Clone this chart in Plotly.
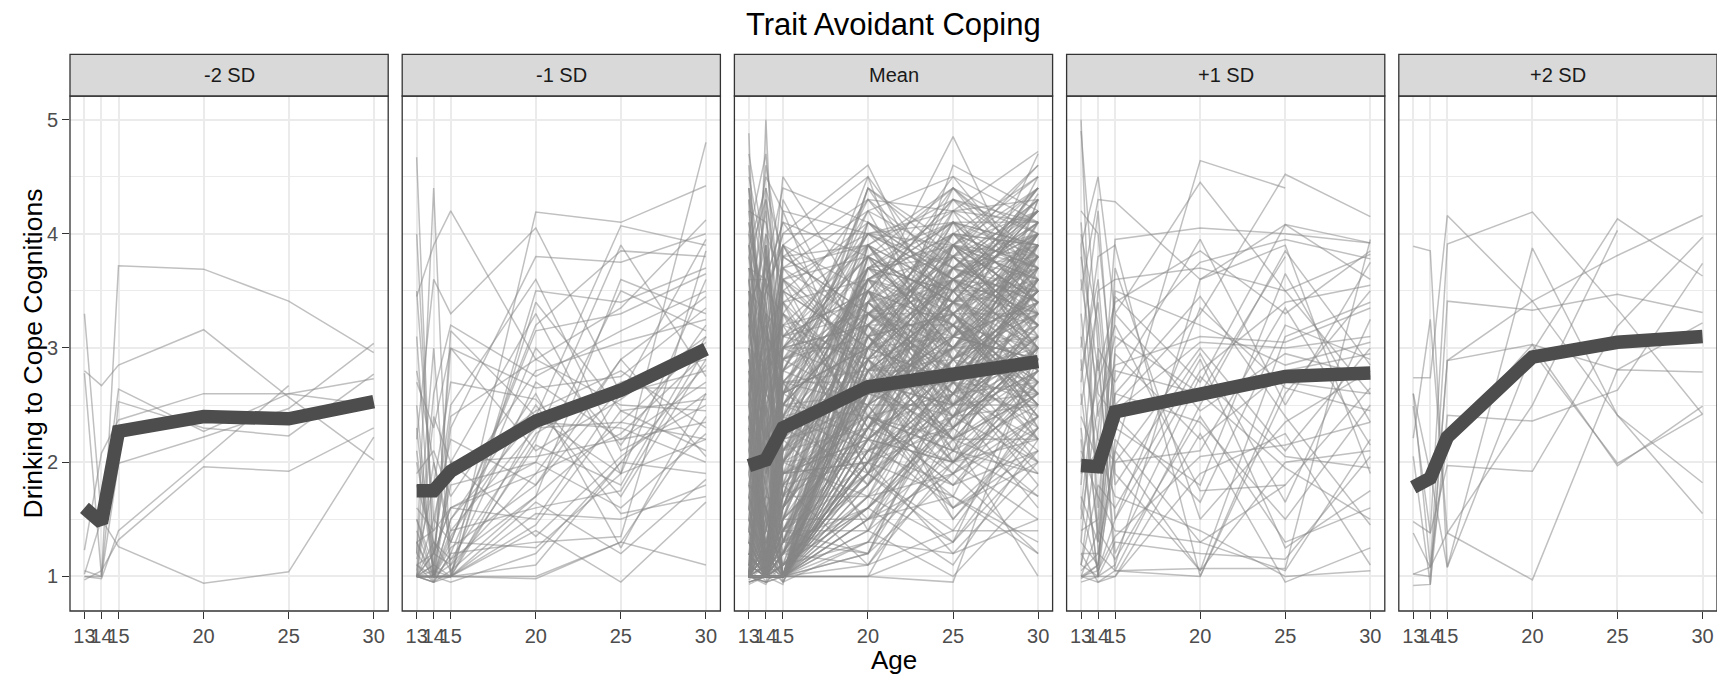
import plotly.graph_objects as go

# ---------------- data ----------------
ages = [13, 14, 15, 20, 25, 30]
age_ticks = [13, 14, 15, 20, 25, 30]
y_ticks = [1, 2, 3, 4, 5]
panel_labels = ["-2 SD", "-1 SD", "Mean", "+1 SD", "+2 SD"]

mean_m2 = [1.60, 1.47, 2.27, 2.40, 2.38, 2.53]
mean_m1 = [1.75, 1.75, 1.92, 2.36, 2.63, 2.99]
mean_0 = [1.97, 2.02, 2.30, 2.66, 2.77, 2.88]
mean_p1 = [1.97, 1.96, 2.44, 2.60, 2.75, 2.78]
mean_p2 = [1.78, 1.86, 2.22, 2.92, 3.05, 3.10]

N = None
indiv_m2 = [
    [1.05, 1.00, 3.72, 3.69, 3.41, 2.96],
    [2.80, 2.67, 2.85, 3.16, 2.57, 2.02],
    [3.30, 1.50, 2.64, 2.27, 2.60, 2.73],
    [2.78, 1.00, 2.53, 2.30, 2.23, 2.77],
    [1.23, 2.08, 2.37, 2.60, 2.60, 2.50],
    [1.00, 1.00, 1.99, 2.22, 2.47, 3.04],
    [1.00, 0.98, 1.40, 2.03, 2.67, N],
    [0.97, 1.05, 1.32, 1.96, 1.92, 2.30],
    [1.02, 1.50, 1.26, 0.94, 1.04, 2.22],
]

indiv_m1 = [
    [4.67, 1.00, 1.50, 2.40, 1.90, 4.80], [1.20, 4.40, 1.00, 4.19, 4.10, 4.42],
    [3.45, 3.90, 4.20, 2.90, 3.35, 4.12], [1.00, 1.20, 2.30, 3.80, 3.75, 4.00],
    [2.20, 3.60, 3.30, 4.05, 2.60, 3.95], [1.10, 1.00, 3.15, 2.40, 4.07, 3.90],
    [3.50, 1.50, 1.30, 3.20, 3.85, 3.80], [1.00, 0.95, 1.00, 3.50, 3.40, 3.70],
    [2.50, 1.00, 2.00, 3.30, 1.90, 3.60], [1.05, 2.60, 3.20, 2.75, 3.15, 3.50],
    [1.80, 1.30, 1.05, 1.70, 3.60, 3.30], [1.30, 0.95, 1.20, 3.00, 2.15, 3.20],
    [1.00, 1.10, 3.00, 2.10, 2.55, 3.10], [2.80, 2.00, 1.40, 2.30, 2.35, 3.05],
    [1.00, 1.00, 1.10, 1.90, 2.25, 2.95], [1.15, 1.80, 2.70, 2.55, 1.70, 2.90],
    [1.00, 1.00, 0.95, 1.20, 2.00, 2.85], [2.00, 1.20, 1.60, 1.50, 2.60, 2.80],
    [1.40, 1.00, 1.00, 2.20, 3.90, 2.75], [1.00, 2.40, 2.00, 2.05, 2.20, 2.70],
    [1.20, 1.00, 1.25, 1.80, 2.65, 2.65], [3.10, 1.00, 1.50, 2.60, 1.25, 2.60],
    [1.00, 1.10, 1.00, 1.45, 2.45, 2.55], [1.60, 1.40, 2.50, 3.60, 2.10, 2.50],
    [1.00, 1.05, 1.00, 1.00, 1.30, 2.40], [1.10, 0.95, 1.90, 2.45, 2.80, 2.30],
    [1.00, 1.30, 1.15, 1.70, 2.35, 2.20], [2.30, 1.00, 1.00, 1.65, 1.20, 1.85],
    [1.00, 1.00, 1.35, 2.50, 1.55, 1.70], [1.00, 1.00, 1.00, 1.40, 0.95, 1.65],
    [1.30, 1.00, 1.00, 0.98, 1.30, 1.10], [1.00, 0.95, 1.20, 1.30, 1.35, 3.85],
    [1.90, 2.10, 1.70, 2.80, 3.05, 3.25], [1.00, 1.50, 2.20, 1.80, 2.90, 3.45],
    [1.00, 1.00, 1.00, 2.35, 2.30, 2.00], [1.50, 1.10, 1.80, 2.00, 1.60, 2.25],
    [1.00, 1.00, 1.40, 1.60, 1.75, 3.00], [1.20, 3.00, 1.00, 3.40, 2.45, 2.10],
    [2.70, 2.30, 3.00, 2.65, 2.75, 3.35], [1.00, 1.00, 1.00, 1.10, 2.00, 1.90],
    [1.10, 1.20, 2.40, 2.90, 2.50, 2.45], [1.00, 0.95, 1.05, 2.15, 1.80, 3.10],
    [4.00, 1.20, 1.60, 1.90, 2.90, 2.05], [1.00, 1.00, 1.30, 3.15, 3.30, 3.65],
    [1.50, 1.00, 2.00, 1.35, 2.05, 2.60], [1.00, 1.20, 1.10, 2.70, 2.20, 2.35],
    [2.10, 1.00, 1.00, 1.55, 1.50, 1.80], [1.00, 1.00, 1.15, 2.25, 2.70, 2.90],
    [1.30, 1.40, 1.60, 2.00, 3.50, 3.15], [1.00, 2.00, 1.30, 1.25, 1.90, 2.20],
]

indiv_0 = [
    [4.88, 1.0, 2.1, 3.2, 2.8, 3.5], [1.0, 5.0, 1.8, 2.6, 3.9, 4.6],
    [4.4, 3.5, 4.0, 4.6, 3.1, 2.9], [1.0, 1.0, 3.9, 4.5, 2.5, 3.0],
    [2.3, 1.1, 1.0, 3.4, 4.85, 3.3], [3.9, 4.4, 3.8, 4.3, 4.2, 4.72],
    [1.1, 1.0, 1.0, 2.0, 2.6, 3.8], [1.0, 1.3, 1.2, 2.8, 3.2, 4.35],
    [3.0, 2.2, 2.5, 3.9, 4.3, 4.1], [0.95, 1.0, 1.0, 1.0, 1.3, 2.1],
    [1.5, 2.8, 3.6, 3.1, 2.2, 2.7], [2.0, 1.0, 1.4, 2.4, 3.4, 3.0],
    [1.0, 0.95, 1.1, 1.6, 2.2, 1.0], [4.2, 3.0, 2.6, 3.6, 4.0, 3.9],
    [1.0, 1.2, 2.0, 3.0, 3.6, 4.2], [2.6, 3.3, 0.95, 2.2, 2.9, 3.3],
    [1.0, 1.0, 1.0, 2.5, 1.5, 2.4], [3.6, 4.5, 4.2, 4.0, 3.7, 4.3],
    [1.3, 1.0, 1.6, 3.5, 2.0, 2.6], [1.0, 1.0, 1.3, 1.2, 2.7, 3.6],
    [2.8, 2.0, 3.0, 2.7, 3.0, 2.2], [1.0, 2.5, 1.0, 3.3, 3.9, 3.4],
    [0.95, 1.0, 1.0, 2.1, 2.4, 2.9], [3.3, 1.5, 2.8, 4.1, 3.3, 2.5],
    [1.2, 1.0, 1.0, 1.4, 1.0, 1.8], [2.1, 3.8, 2.2, 2.9, 4.4, 4.0],
    [1.0, 1.1, 1.5, 2.6, 3.0, 3.7], [4.6, 2.7, 3.3, 1.9, 2.5, 1.6],
    [1.0, 1.0, 2.4, 3.7, 3.5, 4.1], [1.7, 1.0, 1.0, 1.5, 2.1, 2.8],
    [1.0, 1.8, 1.2, 2.3, 1.7, 1.3], [2.5, 1.0, 3.5, 3.0, 3.8, 3.2],
    [1.0, 0.95, 1.0, 1.8, 2.8, 3.5], [3.8, 3.1, 2.9, 3.4, 2.7, 3.1],
    [1.0, 1.2, 1.0, 2.7, 3.3, 2.3], [1.4, 2.3, 1.9, 2.0, 1.2, 2.0],
    [1.0, 1.0, 1.7, 3.8, 4.1, 3.8], [2.9, 1.0, 1.0, 1.0, 2.3, 3.0],
    [1.0, 3.9, 2.7, 2.5, 3.5, 4.4], [1.1, 1.0, 1.0, 2.2, 2.0, 1.5],
    [3.4, 2.4, 3.7, 4.2, 4.5, 3.6], [1.0, 1.0, 1.3, 3.1, 2.6, 2.7],
    [2.2, 1.6, 1.0, 1.7, 3.1, 3.9], [1.0, 1.0, 2.2, 2.4, 1.8, 2.1],
    [4.0, 4.7, 3.1, 3.5, 3.0, 2.6], [1.0, 1.1, 0.95, 1.3, 2.5, 3.1],
    [1.8, 1.0, 2.5, 3.3, 2.8, 4.0], [1.0, 2.0, 1.0, 2.9, 3.6, 3.3],
    [2.4, 1.0, 1.8, 1.1, 1.4, 2.5], [1.0, 1.0, 1.0, 2.6, 3.2, 2.4],
    [3.1, 3.6, 4.1, 3.8, 3.4, 4.2], [1.2, 1.0, 1.4, 2.0, 3.7, 3.5],
    [1.0, 1.4, 2.9, 3.2, 2.1, 1.9], [2.7, 1.0, 1.0, 2.8, 2.9, 3.4],
    [1.0, 1.0, 1.1, 1.9, 1.3, 2.9], [1.6, 2.6, 2.3, 3.6, 3.8, 3.0],
    [1.0, 1.0, 1.0, 1.5, 2.4, 3.2], [3.5, 2.0, 3.4, 2.3, 3.9, 3.7],
    [1.0, 1.3, 1.6, 3.4, 2.6, 2.0], [1.9, 1.0, 1.0, 2.1, 3.0, 4.0],
    [1.0, 3.0, 2.0, 4.4, 3.3, 2.8], [1.0, 1.0, 1.2, 2.7, 2.2, 2.6],
    [4.3, 1.0, 2.6, 3.0, 4.0, 4.5], [1.3, 1.1, 1.0, 1.2, 1.9, 1.2],
    [2.0, 2.9, 3.2, 3.9, 3.5, 3.5], [1.0, 1.0, 1.5, 2.3, 3.4, 3.6],
    [2.6, 1.0, 1.0, 1.6, 2.3, 1.7], [1.0, 1.5, 3.0, 3.5, 2.4, 3.0],
    [3.7, 3.4, 2.1, 2.6, 3.1, 2.9], [1.0, 1.0, 1.0, 3.0, 3.6, 3.9],
    [1.4, 1.0, 1.8, 2.5, 1.6, 2.3], [1.0, 2.2, 1.3, 1.8, 2.7, 3.3],
    [2.2, 1.0, 2.7, 3.6, 4.1, 4.1], [1.0, 0.95, 1.0, 2.2, 2.0, 2.7],
    [3.2, 4.0, 3.6, 2.9, 3.2, 3.8], [1.0, 1.2, 1.1, 3.3, 2.9, 2.2],
    [1.5, 1.0, 1.4, 1.4, 3.0, 3.0], [1.0, 1.0, 2.1, 2.8, 3.7, 4.2],
    [2.8, 2.3, 1.0, 2.4, 1.8, 2.4], [1.0, 1.7, 1.6, 3.7, 3.9, 3.4],
    [1.1, 1.0, 1.0, 1.0, 0.95, 3.0], [3.9, 2.6, 3.8, 3.3, 2.6, 3.1],
    [1.0, 1.0, 1.2, 2.6, 3.5, 2.6], [2.4, 3.1, 2.4, 2.1, 2.5, 3.6],
    [1.0, 1.0, 1.0, 3.6, 3.3, 4.0], [1.7, 1.3, 2.0, 2.9, 2.2, 1.9],
    [1.0, 1.0, 1.4, 1.9, 2.9, 3.5], [4.5, 3.7, 4.4, 4.1, 3.6, 3.3],
    [1.0, 2.1, 1.0, 2.3, 3.1, 3.8], [1.2, 1.0, 1.7, 3.1, 4.2, 3.7],
    [2.0, 1.0, 1.0, 1.7, 1.9, 2.8], [1.0, 1.0, 2.3, 2.7, 2.8, 2.3],
    [3.0, 2.8, 3.0, 3.8, 3.0, 3.9], [1.0, 1.2, 1.0, 2.0, 3.4, 3.1],
    [1.6, 1.0, 1.5, 3.2, 2.3, 4.3], [1.0, 1.9, 2.6, 2.2, 1.6, 2.0],
    [2.5, 1.0, 1.0, 2.9, 3.7, 3.2], [1.0, 1.0, 1.1, 1.3, 2.1, 2.5],
    [3.3, 2.5, 2.8, 3.4, 3.9, 4.4], [1.0, 1.0, 1.6, 2.6, 2.4, 3.4],
    [1.9, 3.4, 1.0, 3.9, 2.9, 2.7], [1.0, 1.0, 1.0, 2.4, 3.3, 3.7],
    [2.7, 1.1, 2.2, 1.5, 2.6, 3.3], [1.0, 1.4, 1.3, 3.0, 2.7, 2.1],
    [1.3, 1.0, 3.3, 2.8, 4.1, 3.9], [1.0, 1.0, 1.0, 1.9, 1.4, 1.4],
    [3.6, 2.2, 2.5, 3.6, 3.2, 3.0], [1.0, 2.7, 1.9, 2.3, 3.0, 3.6],
    [1.1, 1.0, 1.0, 2.5, 2.5, 2.9], [2.3, 1.0, 1.6, 3.3, 3.8, 4.6],
    [1.0, 1.0, 1.2, 1.1, 2.0, 2.4], [4.1, 3.2, 3.4, 2.7, 3.4, 3.5],
    [1.0, 1.0, 1.8, 3.5, 4.3, 3.8], [1.8, 1.6, 1.0, 2.0, 2.7, 2.6],
    [1.0, 1.0, 2.8, 4.0, 3.6, 4.1], [2.1, 1.0, 1.1, 1.6, 1.1, 2.2],
    [1.0, 2.4, 1.4, 2.8, 2.8, 3.1], [3.4, 1.0, 2.0, 3.1, 3.5, 2.8],
    [1.0, 1.0, 1.0, 2.1, 2.3, 3.3], [1.5, 1.2, 2.4, 2.6, 3.1, 3.9],
    [3.2, 2.1, 4.3, 2.9, 3.6, 4.0], [2.5, 3.7, 2.9, 3.7, 4.2, 3.1],
    [1.9, 2.6, 3.5, 2.3, 2.9, 3.7], [3.6, 1.4, 2.1, 3.1, 2.5, 4.3],
    [2.2, 3.0, 1.7, 4.1, 3.7, 3.4], [4.1, 2.9, 3.3, 2.6, 3.2, 2.7],
    [1.6, 4.0, 2.6, 3.0, 4.0, 3.9], [2.9, 1.8, 3.9, 3.5, 2.8, 2.5],
    [3.4, 4.2, 1.9, 2.2, 3.5, 4.1], [1.2, 2.2, 3.1, 3.8, 2.3, 3.0],
    [2.7, 3.4, 2.4, 1.8, 3.9, 3.6], [3.9, 1.9, 2.8, 4.3, 3.4, 2.2],
    [1.8, 2.7, 4.2, 2.4, 2.6, 3.5], [2.4, 1.2, 2.2, 3.4, 4.4, 3.8],
    [3.1, 4.6, 3.7, 2.8, 2.0, 2.9], [1.4, 3.2, 1.5, 3.9, 3.1, 4.5],
    [2.1, 2.0, 3.4, 1.9, 3.3, 2.6], [4.4, 2.5, 2.0, 3.2, 3.8, 3.2],
    [1.1, 3.6, 2.7, 2.7, 2.2, 3.9], [3.0, 1.6, 3.6, 4.0, 3.6, 2.3],
    [2.6, 4.3, 1.6, 2.5, 4.6, 4.2], [1.7, 2.3, 2.5, 3.6, 2.7, 1.8],
    [3.7, 3.0, 4.5, 3.3, 3.0, 3.7], [2.0, 1.3, 1.9, 2.0, 1.7, 3.1],
    [4.7, 3.8, 2.3, 3.7, 3.3, 4.0], [1.3, 2.9, 3.2, 2.9, 4.1, 2.8],
    [2.8, 1.1, 2.6, 4.2, 2.9, 3.4], [3.5, 3.3, 1.3, 1.6, 2.4, 2.5],
    [1.0, 2.6, 3.8, 3.3, 3.7, 4.3], [2.3, 3.9, 2.0, 2.1, 3.5, 3.3],
    [0.95, 1.0, 1.9, 3.0, 2.1, 3.6], [1.0, 0.93, 1.2, 2.4, 3.2, 4.0],
    [0.93, 1.0, 2.7, 1.8, 2.6, 2.9], [1.0, 1.0, 0.93, 3.4, 4.0, 3.5],
    [1.2, 0.95, 1.4, 1.2, 2.4, 3.8], [0.97, 1.1, 2.2, 3.7, 3.2, 2.4],
    [1.0, 1.0, 1.0, 2.8, 1.6, 2.1], [1.1, 1.2, 0.95, 2.5, 3.8, 4.4],
    [0.95, 1.0, 1.5, 1.5, 1.9, 2.7], [1.0, 1.3, 1.8, 4.1, 3.4, 3.2],
    [3.8, 2.4, 3.0, 3.2, 2.6, 3.9], [2.2, 3.5, 3.9, 2.6, 3.1, 4.1],
    [3.3, 2.7, 2.4, 4.4, 3.9, 3.0], [1.5, 1.7, 2.9, 3.1, 4.0, 3.7],
    [2.6, 3.1, 1.8, 2.7, 2.5, 3.4], [4.2, 4.1, 3.5, 3.0, 3.7, 4.4],
    [1.9, 1.1, 1.2, 2.3, 3.3, 2.8], [3.2, 2.8, 3.8, 3.9, 2.8, 3.2],
    [2.0, 3.3, 2.7, 1.4, 2.0, 2.6], [2.9, 1.5, 1.6, 3.5, 4.3, 4.0],
    [1.6, 2.0, 3.6, 2.2, 2.7, 1.9], [3.6, 3.6, 2.1, 3.6, 3.4, 3.7],
    [2.4, 2.5, 3.1, 2.9, 1.5, 2.3], [1.3, 1.0, 2.3, 3.2, 3.6, 4.2],
    [4.0, 3.4, 4.0, 4.0, 4.1, 3.4], [1.8, 1.6, 1.0, 2.6, 2.3, 3.0],
    [2.7, 4.4, 2.8, 3.3, 3.5, 2.7], [3.4, 1.2, 1.7, 1.7, 2.8, 3.5],
    [1.1, 2.8, 3.0, 3.8, 3.0, 3.8], [2.5, 1.9, 2.5, 2.4, 3.9, 3.1],
    [1.0, 1.0, 1.3, 2.9, 3.1, 4.7], [2.3, 1.0, 1.0, 1.3, 1.2, 1.5],
    [1.0, 1.5, 1.1, 2.0, 2.9, 3.3], [1.4, 1.0, 2.0, 3.5, 2.5, 2.5],
    [1.0, 2.1, 1.0, 1.9, 3.6, 3.0], [1.0, 1.0, 1.6, 2.8, 3.4, 3.8],
    [1.6, 1.0, 1.0, 3.1, 2.2, 2.2], [1.0, 1.1, 2.5, 2.2, 2.9, 4.0],
    [1.0, 1.0, 1.0, 1.4, 2.6, 3.6], [2.0, 1.3, 1.4, 2.6, 4.0, 3.3],
    [1.0, 1.0, 2.1, 3.3, 3.3, 2.4], [1.3, 1.8, 1.0, 2.1, 1.8, 2.7],
    [1.0, 1.0, 1.3, 3.6, 3.0, 3.9], [3.0, 1.0, 1.9, 2.7, 4.2, 4.3],
    [1.0, 2.4, 1.2, 1.6, 2.4, 2.0], [1.2, 1.0, 3.0, 3.0, 2.7, 3.5],
    [1.0, 1.0, 1.0, 2.3, 3.7, 2.9], [2.1, 1.2, 1.7, 3.9, 3.2, 3.6],
    [1.0, 1.0, 1.1, 1.7, 1.3, 2.3], [1.5, 3.1, 2.2, 2.5, 3.0, 4.1],
    [1.0, 1.0, 1.5, 3.2, 3.9, 3.0], [2.6, 1.0, 1.0, 2.0, 2.5, 3.1],
    [1.0, 1.4, 2.6, 4.5, 3.5, 3.7], [1.0, 1.0, 1.0, 1.1, 2.2, 2.6],
    [1.8, 2.5, 1.3, 2.8, 3.4, 4.0], [1.0, 1.0, 2.0, 2.4, 2.1, 1.7],
    [3.5, 1.1, 2.7, 3.4, 3.6, 3.2], [1.0, 1.6, 1.0, 3.0, 3.1, 2.9],
    [1.1, 1.0, 1.4, 2.2, 3.8, 4.2], [1.0, 1.0, 1.2, 2.7, 1.9, 2.3],
    [2.4, 2.0, 1.6, 3.8, 4.4, 3.5], [1.0, 1.0, 1.0, 1.5, 1.7, 1.2],
    [1.4, 1.0, 3.1, 3.3, 2.8, 3.4], [1.0, 2.8, 1.7, 2.6, 3.7, 3.9],
    [1.0, 1.0, 1.0, 2.9, 2.4, 2.8], [2.2, 1.4, 2.3, 1.9, 2.9, 3.2],
    [1.0, 1.0, 1.5, 3.5, 4.5, 4.1], [1.7, 1.2, 1.0, 2.3, 2.0, 3.7],
    [1.0, 1.0, 2.4, 3.1, 3.3, 2.6], [1.0, 1.3, 1.0, 1.2, 2.8, 3.0],
    [2.3, 1.8, 2.9, 3.3, 2.7, 3.6], [1.0, 1.0, 1.4, 2.5, 3.6, 4.3],
    [3.1, 2.6, 3.2, 2.0, 2.3, 3.0], [1.2, 1.0, 1.0, 3.8, 3.4, 2.7],
    [2.8, 3.2, 2.6, 3.0, 3.9, 4.2], [1.0, 1.6, 1.9, 2.2, 2.8, 3.9],
    [3.9, 3.3, 3.1, 4.0, 3.3, 3.8], [1.5, 1.0, 1.2, 1.8, 2.6, 2.2],
    [2.6, 2.2, 3.4, 3.6, 4.0, 3.2], [1.0, 1.0, 2.0, 2.9, 2.0, 2.8],
    [3.3, 3.9, 2.5, 2.6, 3.6, 4.0], [1.7, 1.0, 1.0, 3.4, 3.0, 3.5],
    [2.0, 2.6, 3.0, 4.2, 3.8, 3.3], [1.0, 1.2, 1.3, 1.9, 3.2, 2.5],
    [4.3, 3.1, 3.9, 3.1, 2.4, 3.7], [1.3, 1.0, 1.7, 2.6, 3.5, 4.4],
    [2.9, 2.4, 2.0, 3.7, 2.9, 2.0], [1.0, 1.0, 1.0, 2.2, 3.9, 3.4],
    [3.5, 2.7, 3.6, 2.8, 3.4, 4.2], [1.1, 1.4, 2.4, 3.5, 2.3, 2.9],
    [2.2, 1.0, 1.5, 2.3, 3.1, 3.6], [1.0, 2.3, 1.0, 3.2, 4.1, 3.9],
    [3.7, 2.0, 2.7, 3.5, 3.2, 2.6], [1.4, 1.0, 1.0, 1.6, 2.9, 3.8],
    [2.5, 3.5, 3.3, 4.3, 3.7, 4.0], [1.0, 1.0, 1.6, 2.7, 2.5, 3.2],
    [3.2, 1.7, 2.2, 3.0, 4.3, 3.5], [1.6, 1.0, 1.0, 2.4, 1.9, 2.4],
    [2.7, 3.0, 3.7, 3.9, 3.1, 3.4], [1.0, 1.1, 1.2, 3.3, 3.6, 4.1],
    [4.0, 2.2, 2.9, 2.5, 3.3, 3.9], [1.2, 1.0, 1.8, 2.0, 2.7, 2.4],
    [2.1, 2.8, 2.2, 3.7, 3.5, 4.2], [1.0, 1.0, 1.0, 2.8, 3.0, 3.3],
    [3.4, 3.7, 3.0, 3.2, 2.5, 3.1], [1.8, 1.0, 2.6, 4.0, 3.9, 3.6],
    [2.4, 1.5, 1.0, 2.1, 3.4, 2.9], [1.0, 1.9, 2.3, 3.4, 2.8, 4.0],
    [3.0, 3.5, 3.9, 2.7, 3.7, 3.8], [1.3, 1.0, 1.1, 2.9, 2.2, 3.0],
    [2.6, 2.0, 2.4, 3.6, 4.1, 3.4], [1.0, 1.0, 1.7, 2.1, 2.6, 3.6],
    [3.8, 4.3, 3.4, 3.9, 3.5, 4.3], [1.5, 1.2, 1.0, 3.0, 3.3, 2.5],
    [2.3, 2.9, 2.8, 2.5, 3.0, 3.8], [1.0, 1.0, 1.2, 3.7, 3.8, 3.2],
    [3.6, 2.3, 3.2, 3.4, 2.7, 4.1], [1.1, 1.0, 2.1, 2.3, 3.5, 3.9],
    [2.0, 3.3, 1.4, 3.1, 2.4, 2.8], [1.0, 1.0, 1.0, 2.6, 3.9, 4.5],
    [2.8, 1.9, 3.5, 4.1, 3.6, 3.0], [1.4, 2.5, 1.9, 2.4, 2.1, 3.3],
    [3.1, 1.0, 2.5, 3.3, 4.0, 3.7], [1.0, 1.3, 1.0, 1.8, 3.1, 3.4],
    [2.5, 3.8, 3.1, 3.5, 2.9, 3.9], [1.2, 1.0, 1.4, 2.7, 2.0, 2.2],
    [3.4, 2.6, 2.3, 4.4, 3.8, 4.0], [1.0, 1.0, 2.6, 3.2, 3.2, 2.7],
    [2.2, 1.6, 1.1, 2.0, 3.6, 3.5], [1.7, 3.0, 2.8, 3.9, 4.4, 3.7],
    [1.0, 1.0, 1.3, 2.3, 2.6, 3.0], [3.7, 3.6, 4.1, 3.1, 3.3, 3.3],
    [1.3, 1.0, 1.0, 3.6, 2.5, 2.6], [2.9, 2.1, 2.7, 2.8, 3.4, 4.4],
    [1.0, 1.7, 1.6, 2.5, 3.0, 3.1], [3.3, 1.2, 3.0, 3.7, 4.1, 3.6],
    [1.6, 1.0, 2.0, 1.7, 2.3, 2.8], [2.1, 3.2, 2.5, 3.3, 3.1, 4.0],
    [1.0, 1.0, 1.0, 3.1, 3.7, 3.4], [4.4, 2.8, 3.6, 3.8, 3.0, 3.5],
    [1.1, 1.0, 1.5, 2.2, 2.8, 3.7], [2.7, 3.6, 2.1, 2.9, 3.6, 2.9],
    [1.0, 1.2, 1.9, 3.8, 3.4, 4.2], [3.0, 2.4, 3.3, 2.4, 2.2, 3.0],
    [1.5, 1.0, 1.0, 3.0, 3.9, 3.8], [2.4, 1.8, 2.6, 3.5, 3.2, 2.5],
    [1.0, 2.9, 1.3, 2.6, 2.7, 3.5], [3.5, 3.1, 2.9, 4.0, 4.2, 4.1],
    [1.2, 1.0, 1.1, 1.9, 2.4, 3.2], [2.0, 2.2, 3.7, 3.2, 3.8, 3.6],
]

indiv_p1 = [
    [5.00, 1.20, 2.10, 4.64, 4.40, N], [3.90, 4.50, 3.30, 4.45, 3.50, 2.60],
    [4.20, 4.00, 2.50, 3.30, 4.52, 4.15], [3.50, 4.30, 4.28, 3.60, 4.08, 3.92],
    [2.40, 2.00, 3.95, 4.05, 4.00, 3.92], [3.80, 2.80, 3.40, 3.85, 3.30, 3.85],
    [1.80, 3.50, 3.60, 3.70, 3.50, 3.82], [2.90, 1.30, 3.00, 3.75, 3.95, 3.78],
    [1.10, 2.30, 3.45, 2.70, 4.08, 3.60], [2.20, 1.00, 1.10, 3.60, 3.90, 1.90],
    [4.00, 3.20, 1.50, 2.80, 3.40, 3.55], [1.50, 2.50, 2.85, 3.10, 3.05, 3.35],
    [1.00, 1.10, 2.45, 3.05, 3.00, 3.10], [3.10, 2.20, 2.00, 3.00, 2.10, 3.00],
    [2.60, 1.40, 2.95, 2.20, 2.80, 2.95], [1.30, 3.00, 1.05, 2.50, 3.85, 2.85],
    [1.00, 1.00, 3.70, 1.50, 2.35, 2.80], [2.00, 2.70, 3.20, 1.75, 1.80, N],
    [1.20, 1.20, 1.05, 1.00, 2.70, 2.60], [3.30, 1.90, 2.60, 2.35, 1.50, 2.50],
    [1.60, 1.05, 1.35, 2.05, 2.15, 2.35], [0.95, 1.00, 2.20, 1.30, 1.05, 2.20],
    [2.80, 3.60, 1.90, 1.05, 2.00, 2.10], [1.10, 1.80, 1.60, 2.90, 1.25, 1.75],
    [4.10, 2.40, 3.10, 2.60, 1.95, 1.50], [1.00, 0.95, 1.00, 1.90, 2.25, 1.10],
    [1.90, 2.10, 1.70, 1.40, 1.00, 1.05], [2.30, 1.00, 1.30, 1.20, 1.15, 2.05],
    [1.05, 1.20, 2.10, 1.05, 3.10, 3.40], [3.60, 2.60, 2.40, 1.65, 3.20, 2.90],
    [1.40, 1.50, 3.30, 2.45, 2.95, 2.75], [2.50, 3.40, 1.80, 2.95, 1.65, 3.25],
    [1.00, 1.05, 1.50, 3.35, 2.65, 2.45], [1.20, 0.95, 1.05, 1.07, 1.07, 3.95],
    [3.00, 4.20, 2.30, 1.80, 3.65, 2.35], [1.70, 1.30, 2.60, 3.45, 2.40, 1.45],
    [1.10, 1.00, 1.00, 2.25, 0.95, 1.25], [2.70, 3.80, 3.90, 1.00, 2.60, 3.50],
    [0.98, 1.10, 2.00, 2.10, 3.35, 2.15], [4.90, 3.00, 2.70, 3.95, 2.50, 3.75],
    [1.60, 2.90, 1.20, 2.75, 2.05, 1.95], [1.30, 1.10, 2.80, 2.60, 3.80, N],
    [2.10, 1.70, 1.40, 1.30, 1.80, 2.65], [3.90, 1.60, 3.50, 3.20, 2.85, 3.05],
    [1.00, 1.40, 1.15, 2.40, 1.30, 1.60],
]

indiv_p2 = [
    [3.89, 3.85, 1.08, 2.97, 4.13, 3.63],
    [2.74, 2.74, 4.16, 3.41, 2.41, 1.55],
    [2.49, 1.38, 3.91, 4.19, 3.34, 2.42],
    [2.21, 3.25, 1.38, 0.97, 2.81, 2.79],
    [2.60, 1.08, 3.41, 3.33, 3.47, 3.31],
    [2.05, 0.93, 2.89, 3.41, 3.81, 4.16],
    [1.02, 1.08, 2.19, 3.03, 1.97, 2.49],
    [0.92, 0.93, 2.41, 2.36, 2.63, 3.74],
    [1.48, 1.38, 1.97, 1.92, 3.19, 3.97],
    [2.60, 1.90, 1.08, 3.875, 2.41, 1.82],
    [1.38, 1.08, 1.38, 2.50, 4.03, N],
    [N, N, 2.19, 2.97, 1.99, 2.42],
    [1.02, 1.00, 2.89, 3.03, 2.81, 3.22],
]

panels_indiv = [indiv_m2, indiv_m1, indiv_0, indiv_p1, indiv_p2]
panels_mean = [mean_m2, mean_m1, mean_0, mean_p1, mean_p2]

# ---------------- layout geometry ----------------
# the page body adds an 8px offset, so the figure is positioned to compensate
W, H = 1717, 670
ML, MR, MT, MB = 62, 8, 88, 67
PW = W - ML - MR
PH = H - MT - MB
panel_w = 318.2
gap = (PW - 5 * panel_w) / 4
FONT = "Liberation Sans, Arial, Helvetica, sans-serif"
Y_RANGE = [0.697, 5.206]
X_RANGE = [12.15, 30.85]

fig = go.Figure()

for i in range(5):
    xa = "x" if i == 0 else f"x{i+1}"
    ya = "y" if i == 0 else f"y{i+1}"
    for person in panels_indiv[i]:
        xs = [a for a, v in zip(ages, person) if v is not None]
        ys = [v for v in person if v is not None]
        fig.add_trace(go.Scatter(
            x=xs, y=ys, mode="lines", xaxis=xa, yaxis=ya,
            line=dict(color="rgba(135,135,135,0.52)", width=1.5),
            hoverinfo="skip", showlegend=False))
for i in range(5):
    xa = "x" if i == 0 else f"x{i+1}"
    ya = "y" if i == 0 else f"y{i+1}"
    fig.add_trace(go.Scatter(
        x=ages, y=panels_mean[i], mode="lines", xaxis=xa, yaxis=ya,
        line=dict(color="#4D4D4D", width=13.5),
        hoverinfo="skip", showlegend=False))

layout = dict(
    width=W, height=H, plot_bgcolor="white", paper_bgcolor="white",
    margin=dict(l=ML, r=MR, t=MT, b=MB, autoexpand=False), showlegend=False,
)
shapes = []
annotations = []
strip_h = 41.7 / PH
for i in range(5):
    x0 = (i * (panel_w + gap)) / PW
    x1 = (i * (panel_w + gap) + panel_w) / PW
    xkey = "xaxis" if i == 0 else f"xaxis{i+1}"
    ykey = "yaxis" if i == 0 else f"yaxis{i+1}"
    layout[xkey] = dict(
        domain=[x0, x1], anchor="y" if i == 0 else f"y{i+1}",
        range=X_RANGE, tickvals=age_ticks, ticktext=[str(t) for t in age_ticks],
        tickangle=0, automargin=False,
        showgrid=True, gridcolor="#EBEBEB", gridwidth=2, zeroline=False,
        showline=False, ticks="outside", ticklen=7, tickwidth=1.3, tickcolor="#333333",
        tickfont=dict(family=FONT, size=20, color="#4D4D4D"),
    )
    layout[ykey] = dict(
        domain=[0, 1], anchor="x" if i == 0 else f"x{i+1}",
        range=Y_RANGE, tickvals=y_ticks, ticktext=[str(t) for t in y_ticks],
        showticklabels=(i == 0), ticks="outside" if i == 0 else "",
        ticklen=7, tickwidth=1.3, tickcolor="#333333", automargin=False,
        showgrid=True, gridcolor="#EBEBEB", gridwidth=2, zeroline=False,
        showline=False,
        tickfont=dict(family=FONT, size=20, color="#4D4D4D"),
        minor=dict(tickvals=[1.5, 2.5, 3.5, 4.5], showgrid=True,
                   gridcolor="#EBEBEB", gridwidth=1, ticks=""),
    )
    shapes.append(dict(type="rect", xref="paper", yref="paper",
                       x0=x0, x1=x1, y0=0, y1=1, layer="above",
                       line=dict(color="#333333", width=1.3),
                       fillcolor="rgba(0,0,0,0)"))
    shapes.append(dict(type="rect", xref="paper", yref="paper",
                       x0=x0, x1=x1, y0=1.0, y1=1.0 + strip_h,
                       fillcolor="#D9D9D9", line=dict(color="#333333", width=1.3)))
    annotations.append(dict(text=panel_labels[i], xref="paper", yref="paper",
                            x=(x0 + x1) / 2, y=1.0 + strip_h / 2, showarrow=False,
                            xanchor="center", yanchor="middle",
                            font=dict(family=FONT, size=20, color="#1A1A1A")))

annotations.append(dict(text="Trait Avoidant Coping", xref="paper", yref="paper",
                        x=0.5, y=1 + (MT - 17) / PH, showarrow=False,
                        xanchor="center", yanchor="middle",
                        font=dict(family=FONT, size=31, color="black")))
annotations.append(dict(text="Age", xref="paper", yref="paper",
                        x=0.5, y=-(652 - (H - MB)) / PH, showarrow=False,
                        xanchor="center", yanchor="middle",
                        font=dict(family=FONT, size=26, color="black")))
annotations.append(dict(text="Drinking to Cope Cognitions", xref="paper", yref="paper",
                        x=(24 - ML) / PW, y=0.5,
                        showarrow=False, textangle=-90,
                        xanchor="center", yanchor="middle",
                        font=dict(family=FONT, size=26.5, color="black")))
layout["shapes"] = shapes
layout["annotations"] = annotations
fig.update_layout(**layout)

fig.write_html("out.html")
